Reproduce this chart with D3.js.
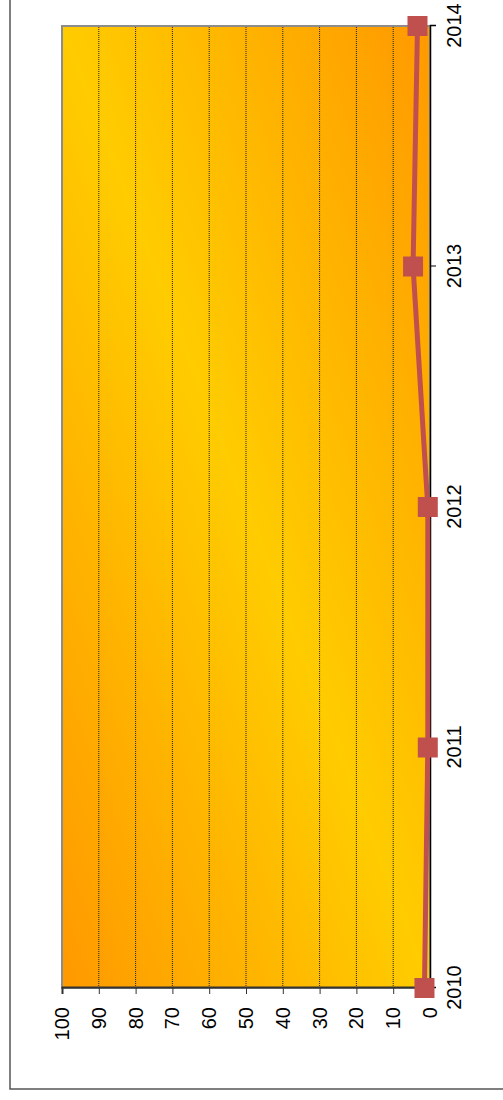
<!DOCTYPE html>
<html>
<head>
<meta charset="utf-8">
<script src="https://d3js.org/d3.v7.min.js"></script>
<style>
body { margin: 0; background: #fff; }
.grid line {
  stroke: #222;
  stroke-width: 1;
  stroke-dasharray: 1,1;
}
</style>
</head>
<body>
<div id="chart"></div>
<script>
// data
var years = ["2010", "2011", "2012", "2013", "2014"];
var values = [1.5, 0.6, 0.6, 4.6, 3.4];
var valueTicks = [0, 10, 20, 30, 40, 50, 60, 70, 80, 90, 100];

var W = 503, H = 1100;

var svg = d3.select("#chart").append("svg")
    .attr("width", W)
    .attr("height", H);

var defs = svg.append("defs");
var grad = defs.append("linearGradient")
    .attr("id", "bg")
    .attr("x1", 0).attr("y1", 0)
    .attr("x2", 1).attr("y2", 1);
grad.append("stop").attr("offset", "0%").attr("stop-color", "#ff9900");
grad.append("stop").attr("offset", "50%").attr("stop-color", "#ffcc00");
grad.append("stop").attr("offset", "100%").attr("stop-color", "#ff9900");

// the whole chart is drawn upright and then turned a quarter to the left
var g = svg.append("g")
    .attr("transform", "translate(0," + H + ") rotate(-90)");

// outer frame
g.append("rect")
    .attr("x", 11).attr("y", 10)
    .attr("width", 1200).attr("height", 600)
    .attr("fill", "none")
    .attr("stroke", "#555")
    .attr("stroke-width", 1.5);

var plot = {left: 112, right: 1074, top: 62, bottom: 430};

var x = d3.scalePoint()
    .domain(years)
    .range([plot.left, plot.right])
    .padding(0);

var y = d3.scaleLinear()
    .domain([0, 100])
    .range([plot.bottom, plot.top]);

// plot background
g.append("rect")
    .attr("x", plot.left).attr("y", plot.top)
    .attr("width", plot.right - plot.left)
    .attr("height", plot.bottom - plot.top)
    .attr("fill", "url(#bg)")
    .attr("stroke", "#8c8c8c")
    .attr("stroke-width", 2);

// dotted grid
g.append("g")
    .attr("class", "grid")
    .selectAll("line")
    .data(valueTicks.filter(function(d) { return d > 0 && d < 100; }))
    .enter().append("line")
      .attr("x1", plot.left).attr("x2", plot.right)
      .attr("y1", function(d) { return y(d); })
      .attr("y2", function(d) { return y(d); });

function styleText(sel) {
  sel.attr("font-family", "Arial, 'Liberation Sans', sans-serif")
    .attr("font-size", 20);
  sel.selectAll("text").attr("fill", "#000");
}

// value axis
var yAxis = g.append("g")
    .attr("class", "axis")
    .attr("transform", "translate(" + plot.left + ",0)")
    .call(d3.axisLeft(y).tickValues(valueTicks).tickSize(6).tickPadding(13));
yAxis.select(".domain").attr("stroke", "#333").attr("stroke-width", 2);
yAxis.selectAll(".tick line").attr("stroke", "#333");
styleText(yAxis);

// category axis
var xAxis = g.append("g")
    .attr("class", "axis")
    .attr("transform", "translate(0," + plot.bottom + ")")
    .call(d3.axisBottom(x).tickSize(6).tickPadding(11));
xAxis.select(".domain").attr("stroke", "#000").attr("stroke-width", 1.5);
xAxis.selectAll(".tick line").attr("stroke", "#000");
styleText(xAxis);

// series line
var line = d3.line()
    .x(function(d, i) { return x(years[i]); })
    .y(function(d) { return y(d); });

g.append("path")
    .datum(values)
    .attr("d", line)
    .attr("fill", "none")
    .attr("stroke", "#c0504d")
    .attr("stroke-width", 5)
    .attr("stroke-linejoin", "round");

g.selectAll(".marker")
    .data(values)
    .enter().append("rect")
      .attr("class", "marker")
      .attr("x", function(d, i) { return x(years[i]) - 10; })
      .attr("y", function(d) { return y(d) - 10; })
      .attr("width", 20)
      .attr("height", 20)
      .attr("fill", "#c0504d");
</script>
</body>
</html>
